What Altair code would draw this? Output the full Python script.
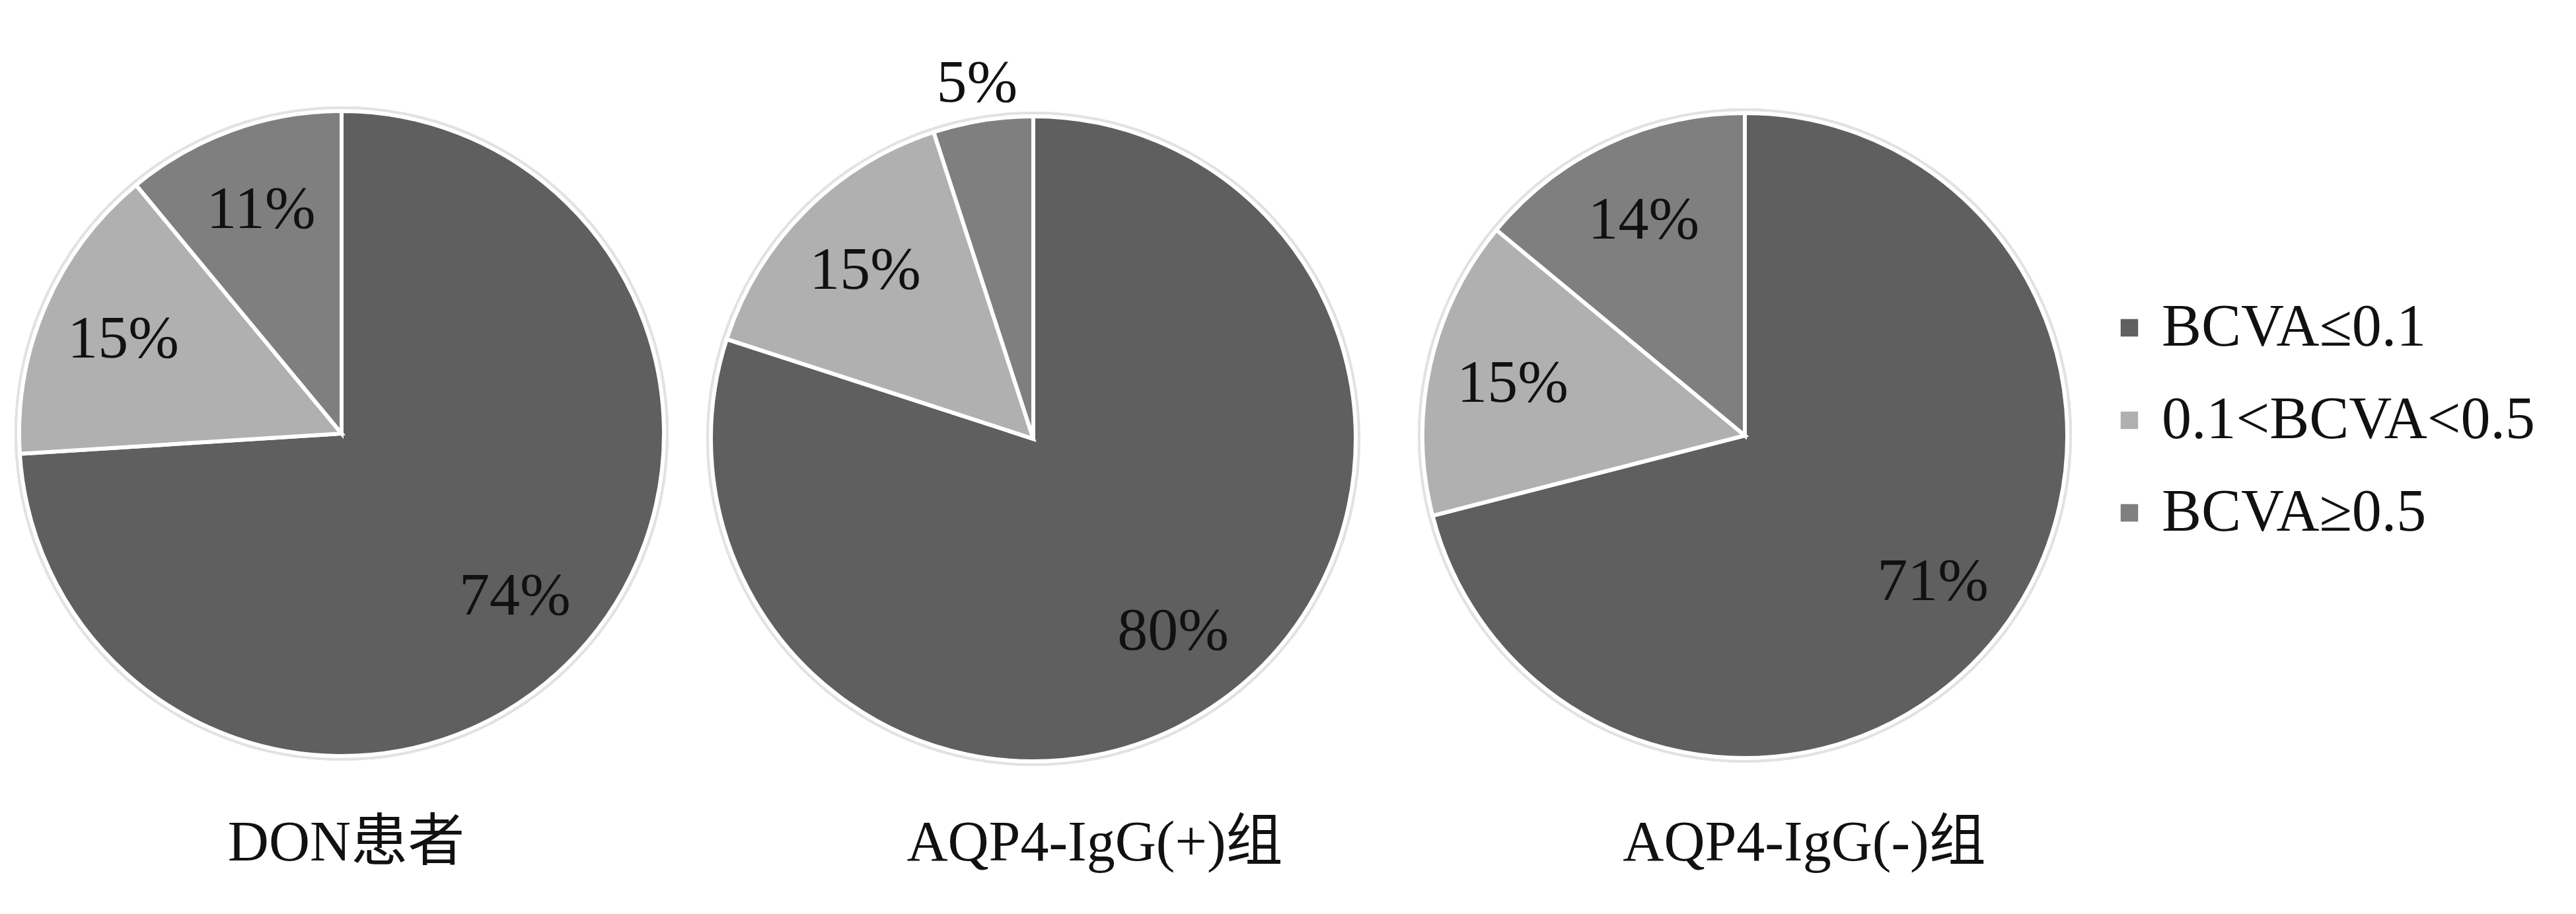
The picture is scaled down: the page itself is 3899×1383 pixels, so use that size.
import altair as alt
import pandas as pd

# ---- data ----
groups = ["DON患者", "AQP4-IgG(+)组", "AQP4-IgG(-)组"]
categories = ["BCVA≤0.1", "0.1<BCVA<0.5", "BCVA≥0.5"]
don_values = [74, 15, 11]
pos_values = [80, 15, 5]
neg_values = [71, 15, 14]

rows = []
for g, vals in zip(groups, [don_values, pos_values, neg_values]):
    for i, (c, v) in enumerate(zip(categories, vals)):
        rows.append({"group": g, "category": c, "idx": i, "value": v})
df = pd.DataFrame(rows)

# ---- styling / layout ----
colors = ["#5f5f5f", "#b0b0b0", "#7f7f7f"]
SERIF = "Liberation Serif, Times New Roman, Noto Sans CJK SC, serif"
R = 488
H = 1200
# panel width, pie centre x, pie centre y, title dx
layout = [
    (1018, 509, 648, 7),
    (1076, 538, 656, 93),
    (1078, 539, 651, 90),
]

theta_scale = alt.Scale(domain=[0, 100])
color_scale = alt.Scale(domain=categories, range=colors)

panels = []
for g, (w, cx, cy, tdx) in zip(groups, layout):
    base = (
        alt.Chart(df)
        .transform_filter(alt.datum.group == g)
        .transform_stack(
            stack="value",
            groupby=["group"],
            as_=["start", "end"],
            sort=[alt.SortField("idx", order="ascending")],
        )
        .transform_calculate(
            mid="(datum.start + datum.end) / 2", label="datum.value + '%'"
        )
    )
    shadow = base.mark_arc(
        theta=0, theta2=6.2832, radius=R + 7, color="#e2e2e2"
    ).encode(x=alt.value(cx), y=alt.value(cy))
    arcs = base.mark_arc(radius=R, stroke="white", strokeWidth=6).encode(
        theta=alt.Theta("start:Q", scale=theta_scale, stack=None),
        theta2="end:Q",
        color=alt.Color("category:N", scale=color_scale, legend=alt.Legend(title=None)),
        x=alt.value(cx),
        y=alt.value(cy),
    )
    labels = base.transform_filter("datum.value >= 8").mark_text(
        radius=360, font=SERIF, fontSize=92, color="#111111",
        align="center", baseline="middle",
    ).encode(
        theta=alt.Theta("mid:Q", scale=theta_scale, stack=None),
        text="label:N",
        x=alt.value(cx),
        y=alt.value(cy),
    )
    small = base.transform_filter("datum.value < 8").mark_text(
        radius=545, font=SERIF, fontSize=92, color="#111111",
        align="center", baseline="middle",
    ).encode(
        theta=alt.Theta("mid:Q", scale=theta_scale, stack=None),
        text="label:N",
        x=alt.value(cx),
        y=alt.value(cy),
    )
    panel = alt.layer(shadow, arcs, labels, small).properties(
        width=w,
        height=H,
        title=alt.TitleParams(
            g,
            orient="bottom",
            anchor="middle",
            frame="group",
            offset=26,
            dx=tdx,
            font=SERIF,
            fontSize=86,
            fontWeight="normal",
            color="#111111",
        ),
    )
    panels.append(panel)

chart = (
    alt.hconcat(*panels, spacing=0)
    .properties(padding={"left": 0, "top": 0, "right": 0, "bottom": 40})
    .configure_view(stroke=None)
    .configure_legend(
        orient="none",
        legendX=3170,
        legendY=443,
        symbolType="square",
        symbolSize=700,
        symbolStrokeWidth=0,
        labelFont=SERIF,
        labelFontSize=90,
        labelColor="#111111",
        labelOffset=4,
        labelLimit=1000,
        rowPadding=50,
        padding=0,
    )
)

chart.save("out.html", embed_options={"renderer": "svg", "actions": False})
